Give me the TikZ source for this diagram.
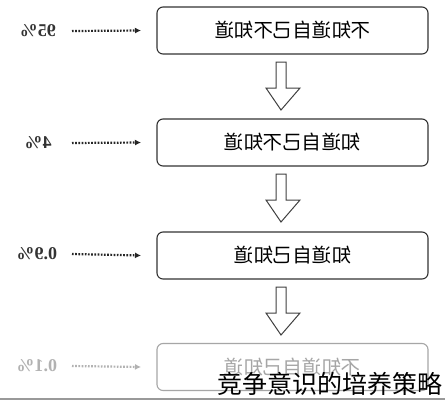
\documentclass[tikz,border=0pt]{standalone}
\usepackage{fontspec}
\usepackage{graphicx}
\setmainfont{Liberation Serif}
\newfontfamily\cjk{Noto Sans CJK SC}
\usetikzlibrary{arrows.meta}
\tikzset{
  x=1pt,y=-1pt,
  stagebox/.style={draw=black!80,line width=1.1pt,rounded corners=6pt,minimum width=271pt,minimum height=47pt,inner sep=0pt,font=\cjk\fontsize{19.5}{20}\selectfont},
  pctlabel/.style={font=\bfseries\fontsize{18}{18}\selectfont,text=black!80},
  dotarrow/.style={line width=2.2pt,dash pattern=on 1.7pt off 1.5pt,black!85,-{Latex[length=6pt,width=6pt]}},
  hollow/.style={draw=black!75,line width=1pt,fill=white},
  faded/.style={draw=black!35,text=black!35}
}
\begin{document}
\begin{tikzpicture}
\useasboundingbox (0,0) rectangle (445,400);
\fill[white] (0,0) rectangle (445,400);
\draw[black!40,line width=2pt] (0,398.5) -- (445,398.5);
% boxes
\node[stagebox] (b1) at (292.5,30.5) {\reflectbox{不知道自己不知道}};
\node[stagebox] (b2) at (292.5,142.5) {\reflectbox{知道自己不知道}};
\node[stagebox] (b3) at (292.5,255.5) {\reflectbox{知道自己知道}};
\node[stagebox,faded] (b4) at (292.5,367) {\reflectbox{不知道自己知道}};
% labels
\node[pctlabel] (l1) at (38,31) {\reflectbox{95\%}};
\node[pctlabel] (l2) at (38,143) {\reflectbox{4\%}};
\node[pctlabel] (l3) at (37,254) {\reflectbox{0.9\%}};
\node[pctlabel,text=black!30] (l4) at (37,366) {\reflectbox{0.1\%}};
\coordinate (s1) at (72,31);
\coordinate (s2) at (72,143);
\coordinate (s3) at (72,254);
\coordinate (s4) at (72,366);
\draw[dotarrow] (s1) -- (b1.west -| 141,0);
\draw[dotarrow] (s2) -- (b2.west -| 141,0);
\draw[dotarrow] (s3) -- (b3.west -| 141,0);
\draw[dotarrow,black!30] (s4) -- (b4.west -| 141,0);
% hollow arrows
\foreach \i/\t in {1/62,2/174,3/287}{
  \draw[hollow] (276,\t) -- (286,\t) -- (286,\t+26) -- (300,\t+26) -- (281,\t+48) -- (266,\t+26) -- (276,\t+26) -- cycle;
}
% watermark
\node[font=\cjk\fontsize{25}{25}\selectfont,anchor=east,inner sep=0pt] (wm) at (443,384) {竞争意识的培养策略};
\end{tikzpicture}
\end{document}
